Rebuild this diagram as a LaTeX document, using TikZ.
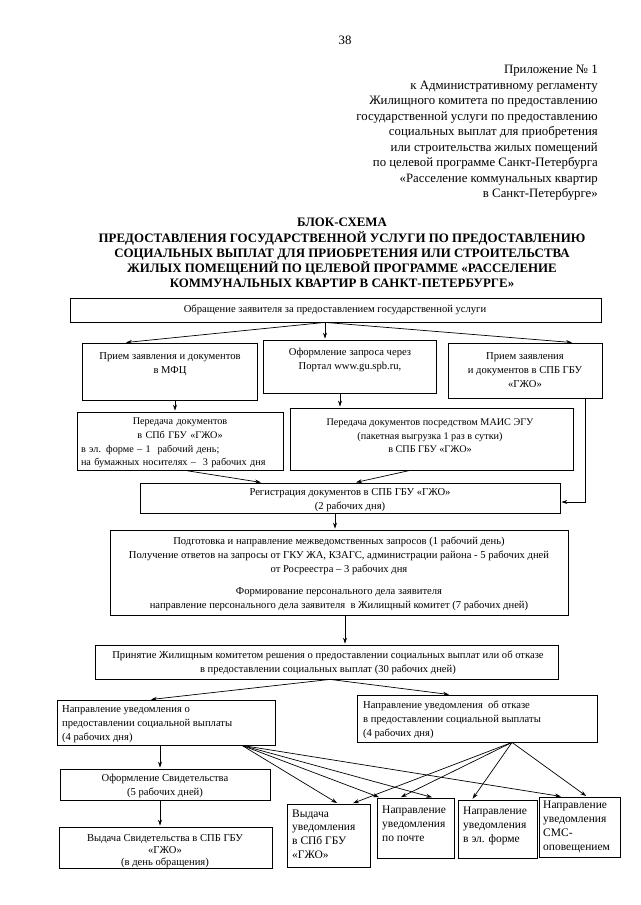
\documentclass[tikz,border=0pt]{standalone}
\usepackage{fontspec}
\setmainfont{Liberation Serif}
\usetikzlibrary{arrows.meta,fit}
\begin{document}
\begin{tikzpicture}[x=1pt,y=-1pt,
  box/.style={draw, line width=0.8pt, inner sep=0pt},
  txt/.style={font=\fontsize{10.6}{13.8}\selectfont, align=center, inner sep=0pt},
  ntxt/.style={font=\fontsize{10.2}{13.6}\selectfont, align=center, inner sep=0pt},
  stxt/.style={font=\fontsize{11.5}{13.8}\selectfont, align=left, inner sep=0pt, anchor=west},
  hdr/.style={font=\fontsize{12.8}{15.5}\selectfont, inner sep=0pt},
  ttl/.style={font=\fontsize{12.9}{15.3}\selectfont\bfseries, align=center, inner sep=0pt},
  arr/.style={-{Stealth[length=6pt,width=4pt]}, line width=0.7pt, shorten >=1pt},
  ln/.style={line width=0.7pt}]
\path[use as bounding box, fill=white] (0,0) rectangle (640,905);

% header
\node[hdr] (pg) at (345,40) {38};
\node[hdr, align=right, anchor=north east] (hdr) at (598,65) {Приложение №~1\\к Административному регламенту\\Жилищного комитета по предоставлению\\государственной услуги по предоставлению\\социальных выплат для приобретения\\или строительства жилых помещений\\по целевой программе Санкт-Петербурга\\«Расселение коммунальных квартир\\в Санкт-Петербурге»};
\node[ttl, anchor=north] (ttl) at (342,218) {БЛОК-СХЕМА\\ПРЕДОСТАВЛЕНИЯ ГОСУДАРСТВЕННОЙ УСЛУГИ ПО ПРЕДОСТАВЛЕНИЮ\\СОЦИАЛЬНЫХ ВЫПЛАТ ДЛЯ ПРИОБРЕТЕНИЯ ИЛИ СТРОИТЕЛЬСТВА\\ЖИЛЫХ ПОМЕЩЕНИЙ ПО ЦЕЛЕВОЙ ПРОГРАММЕ «РАССЕЛЕНИЕ\\КОММУНАЛЬНЫХ КВАРТИР В САНКТ-ПЕТЕРБУРГЕ»};

% boxes
\node[box, fit={(70,298) (601,322)}] (b1) {};
\node[txt] (b1t) at (335,310) {Обращение заявителя за предоставлением государственной услуги};

\node[box, fit={(82,343) (257,400)}] (mfc) {};
\node[txt] (mfct) at (170,364) {Прием заявления и документов\\в МФЦ};
\node[box, fit={(263,340) (436,393)}] (portal) {};
\node[txt] (portalt) at (350,360) {Оформление запроса через\\Портал www.gu.spb.ru,};
\node[box, fit={(448,343) (602,398)}] (gzho) {};
\node[txt] (gzhot) at (525,370) {Прием заявления\\и документов в СПБ ГБУ\\«ГЖО»};

\node[box, fit={(77,412) (283,470)}] (per) {};
\node[ntxt, align=left, text width=198pt] (pert) at (180,443) {\makebox[198pt]{Передача документов}\\\makebox[198pt]{в СПб ГБУ «ГЖО»}\\в эл. форме –~1~~рабочий день;\\на бумажных носителях –~~3 рабочих дня};
\node[box, fit={(290,408) (573,470)}] (mais) {};
\node[ntxt] (maist) at (430,436) {Передача документов посредством МАИС ЭГУ\\(пакетная выгрузка 1 раз в сутки)\\в СПБ ГБУ «ГЖО»};

\node[box, fit={(140,483) (560,513)}] (reg) {};
\node[txt] (regt) at (350,500) {Регистрация документов в СПБ ГБУ «ГЖО»\\(2 рабочих дня)};

\node[box, fit={(110,530) (568,615)}] (podg) {};
\node[txt] (podgt) at (339,574) {Подготовка и направление межведомственных запросов (1 рабочий день)\\Получение ответов на запросы от ГКУ ЖА, КЗАГС, администрации района - 5 рабочих дней\\от Росреестра – 3 рабочих дня\\[9pt]Формирование персонального дела заявителя\\направление персонального дела заявителя~~в Жилищный комитет (7 рабочих дней)};

\node[box, fit={(95,645) (558,679)}] (prin) {};
\node[txt] (print) at (328,663) {Принятие Жилищным комитетом решения о предоставлении социальных выплат или об отказе\\в предоставлении социальных выплат (30 рабочих дней)};

\node[box, fit={(57,700) (275,745)}] (napr) {};
\node[txt, align=left, anchor=west] (naprt) at (62,724) {Направление уведомления о\\предоставлении социальной выплаты\\(4 рабочих дня)};
\node[box, fit={(357,695) (597,742)}] (otk) {};
\node[txt, align=left, anchor=west] (otkt) at (363,720) {Направление уведомления~~об отказе\\в предоставлении социальной выплаты\\(4 рабочих дня)};

\node[box, fit={(60,769) (270,800)}] (oform) {};
\node[txt] (oformt) at (165,786) {Оформление Свидетельства\\(5 рабочих дней)};
\node[box, fit={(59,827) (272,868)}] (vyd) {};
\node[txt, font=\fontsize{10.6}{12.3}\selectfont] (vydt) at (165,851) {Выдача Свидетельства в СПБ ГБУ\\«ГЖО»\\(в день обращения)};

\node[box, fit={(287,804) (370,867)}] (s1) {};
\node[stxt] (s1t) at (292,834) {Выдача\\уведомления\\в СПб ГБУ\\«ГЖО»};
\node[box, fit={(377,798) (454,858)}] (s2) {};
\node[stxt] (s2t) at (382,824) {Направление\\уведомления\\по почте};
\node[box, fit={(458,800) (537,858)}] (s3) {};
\node[stxt] (s3t) at (463,826) {Направление\\уведомления\\в эл. форме};
\node[box, fit={(539,797) (620,857)}] (s4) {};
\node[stxt] (s4t) at (543,827) {Направление\\уведомления\\СМС-\\оповещением};

% connectors
\draw[arr] (325,0 |- b1.south) -- (125,0 |- mfc.north);
\draw[arr] (325,0 |- b1.south) -- (325,0 |- portal.north);
\draw[arr] (325,0 |- b1.south) -- (573,0 |- gzho.north);

\draw[arr] (175,0 |- mfc.south) -- (175,0 |- per.north);
\draw[arr] (340,0 |- portal.south) -- (340,0 |- mais.north);
\draw[arr] (585,0 |- gzho.south) |- (reg.east |- 0,502);

\draw[arr] (185,0 |- per.south) -- (262,0 |- reg.north);
\draw[arr] (410,0 |- mais.south) -- (355,0 |- reg.north);

\draw[arr] (335,0 |- reg.south) -- (335,0 |- podg.north);
\draw[arr] (345,0 |- podg.south) -- (345,0 |- prin.north);

\draw[arr] (330,0 |- prin.south) -- (150,0 |- napr.north);
\draw[arr] (330,0 |- prin.south) -- (450,0 |- otk.north);

\draw[arr] (160,0 |- napr.south) -- (160,0 |- oform.north);
\draw[arr] (160,0 |- oform.south) -- (160,0 |- vyd.north);

\draw[arr] (242,0 |- napr.south) -- (338,0 |- s1.north);
\draw[arr] (242,0 |- napr.south) -- (380,0 |- s2.north);
\draw[arr] (242,0 |- napr.south) -- (433,0 |- s2.north);
\draw[arr] (242,0 |- napr.south) -- (562,0 |- s4.north);

\draw[arr] (512,0 |- otk.south) -- (352,0 |- s1.north);
\draw[arr] (512,0 |- otk.south) -- (400,0 |- s2.north);
\draw[arr] (512,0 |- otk.south) -- (472,0 |- s3.north);
\draw[arr] (512,0 |- otk.south) -- (587,0 |- s4.north);
\end{tikzpicture}
\end{document}
